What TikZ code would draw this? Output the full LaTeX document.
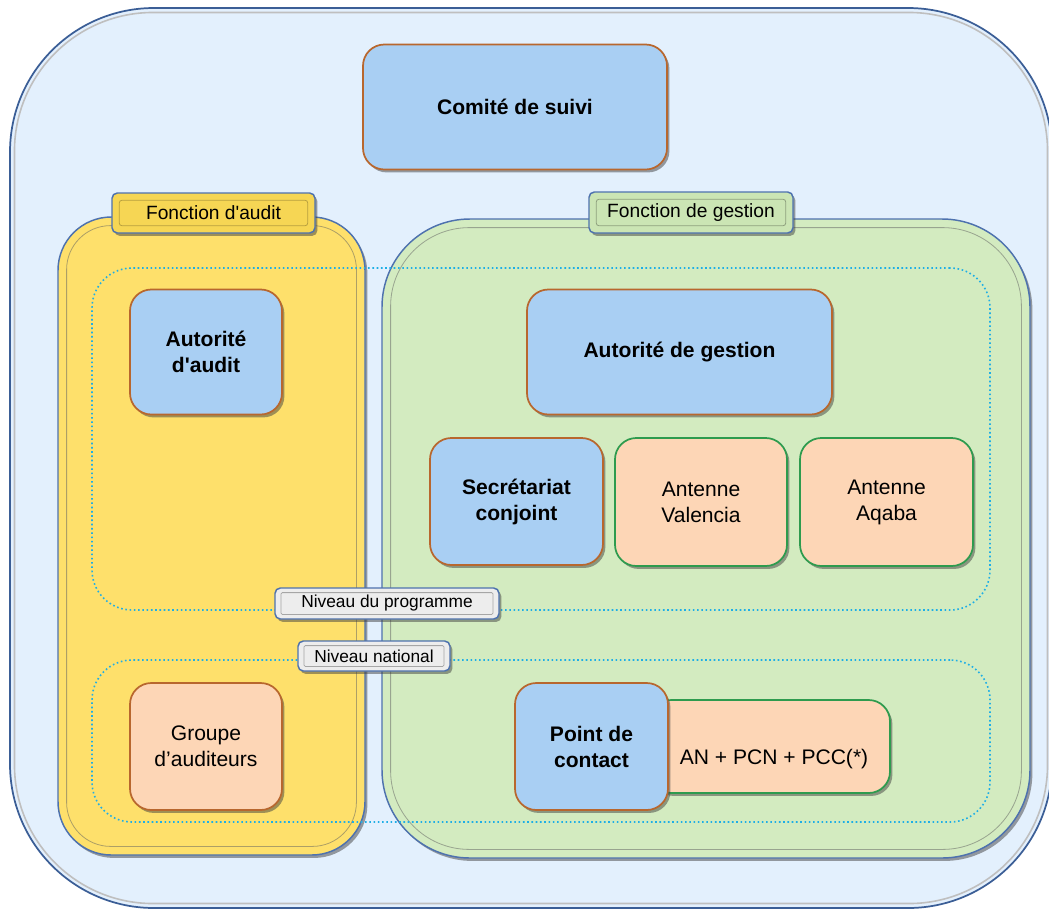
\documentclass[tikz,border=0pt]{standalone}
\usepackage{fontspec}
\setmainfont{Liberation Sans}
\usetikzlibrary{shadows,calc}
\definecolor{outerfill}{HTML}{E3F0FD}
\definecolor{outerline}{HTML}{3B5E96}
\definecolor{boxblue}{HTML}{A9CFF3}
\definecolor{boxbrown}{HTML}{B8672E}
\definecolor{salmon}{HTML}{FDD6B6}
\definecolor{boxgreen}{HTML}{2E9B4E}
\definecolor{audityellow}{HTML}{FEE06B}
\definecolor{gestgreen}{HTML}{D3EBC0}
\definecolor{tabyellow}{HTML}{F6D654}
\definecolor{tabgreen}{HTML}{CBE5B4}
\definecolor{dotblue}{HTML}{1EAEE6}
\definecolor{frameblue}{HTML}{4E72AE}
\definecolor{tabgrey}{HTML}{EDEDED}
\begin{document}
\begin{tikzpicture}[x=0.75pt,y=-0.75pt,
  every node/.style={inner sep=0pt},
  sh/.style={drop shadow={shadow xshift=1.8pt,shadow yshift=-2.2pt,opacity=0.5,fill=black!75}},
  bigfont/.style={font=\fontsize{15.8}{19.5}\selectfont},
  bluebox/.style={draw=boxbrown,line width=1.3pt,fill=boxblue,rounded corners=16pt,align=center,font=\bfseries\fontsize{15.8}{19.5}\selectfont,sh},
  salgreen/.style={draw=boxgreen,line width=1.3pt,fill=salmon,rounded corners=16pt,align=center,bigfont,sh},
  salbrown/.style={draw=boxbrown,line width=1.3pt,fill=salmon,rounded corners=16pt,align=center,bigfont,sh},
  container/.style={draw=frameblue,line width=1.1pt,sh},
  ftab/.style={draw=frameblue,line width=1.1pt,rounded corners=4pt,sh},
  ntab/.style={draw=frameblue,line width=1.1pt,rounded corners=4pt,fill=tabgrey,sh},
  levelbox/.style={draw=dotblue,dotted,line width=1.2pt,rounded corners=30pt},
  bevel/.style={line width=0.6pt}
]
\useasboundingbox (0,0) rectangle (1049,911);
\begin{scope}
\clip (0,0) rectangle (1049,911);
% outer frame
\node[draw=outerline,line width=1.3pt,fill=outerfill,rounded corners=108pt,
  minimum width=781.5pt,minimum height=675pt] (outer) at (531,458) {};
\draw[black!25,line width=1.2pt,rounded corners=104pt]
  ($(outer.north west)+(4pt,-4pt)$) rectangle ($(outer.south east)+(-4pt,4pt)$);
\end{scope}

% function containers
\node[container,fill=audityellow,rounded corners=40pt,
  minimum width=230.25pt,minimum height=478.5pt] (audit) at (211.5,536) {};
\draw[bevel,draw=audityellow!60!black!80,rounded corners=33pt]
  ($(audit.north west)+(7pt,-7pt)$) rectangle ($(audit.south east)+(-7pt,7pt)$);
\node[container,fill=gestgreen,rounded corners=66pt,
  minimum width=486pt,minimum height=479.25pt] (gestion) at (706,538.5) {};
\draw[bevel,draw=gestgreen!60!black!80,rounded corners=59pt]
  ($(gestion.north west)+(7pt,-7pt)$) rectangle ($(gestion.south east)+(-7pt,7pt)$);

% level frames
\node[levelbox,minimum width=673.5pt,minimum height=256.5pt] (prog) at (541,439) {};
\node[levelbox,minimum width=673.5pt,minimum height=121.5pt] (nat) at (541,741) {};

% function tabs
\node[ftab,fill=tabyellow,minimum width=152.25pt,minimum height=30pt] (tabaudit) at (213.5,213) {};
\draw[bevel,draw=tabyellow!75!black,rounded corners=2pt]
  ($(tabaudit.north west)+(6pt,-6pt)$) rectangle ($(tabaudit.south east)+(-6pt,6pt)$);
\node[font=\fontsize{14.4}{17}\selectfont] (tabaudittext) at (tabaudit) {Fonction d\textquotesingle audit};
\node[ftab,fill=tabgreen,minimum width=153pt,minimum height=30.75pt] (tabgest) at (691,212.5) {};
\draw[bevel,draw=tabgreen!70!black,rounded corners=2pt]
  ($(tabgest.north west)+(6pt,-6pt)$) rectangle ($(tabgest.south east)+(-6pt,6pt)$);
\node[font=\fontsize{14.4}{17}\selectfont] (tabgesttext) at (tabgest) {Fonction de gestion};

% boxes
\node[bluebox,minimum width=228pt,minimum height=93.75pt] (comite) at (515,107) {Comité de suivi};
\node[bluebox,minimum width=114pt,minimum height=93.75pt] (aa) at (206,352) {Autorité\\d\textquotesingle audit};
\node[bluebox,minimum width=228.75pt,minimum height=93.75pt] (ag) at (679.5,352) {Autorité de gestion};
\node[bluebox,minimum width=129.75pt,minimum height=95.25pt] (sc) at (516.5,501.5) {Secrétariat\\conjoint};
\node[salgreen,minimum width=129pt,minimum height=96pt] (val) at (701,502) {Antenne\\Valencia};
\node[salgreen,minimum width=129.75pt,minimum height=96pt] (aqa) at (886.5,502) {Antenne\\Aqaba};
\node[salbrown,minimum width=114pt,minimum height=95.25pt] (grp) at (206,746.5) {Groupe\\d’auditeurs};
\node[salgreen,minimum width=180pt,minimum height=69.75pt,
  label={[bigfont,xshift=3pt,yshift=-9.4pt]center:AN + PCN + PCC(*)}] (an) at (770,746.5) {};
\node[bluebox,minimum width=114.75pt,minimum height=95.25pt] (pc) at (591.5,746.5) {Point de\\contact};

% level tabs
\node[ntab,minimum width=168pt,minimum height=23.25pt] (tprog) at (387,603.5) {};
\draw[bevel,draw=black!35,rounded corners=1pt]
  ($(tprog.north west)+(5pt,-4pt)$) rectangle ($(tprog.south east)+(-5pt,4pt)$);
\node[font=\fontsize{13}{15}\selectfont] (tprogtext) at (tprog) {Niveau du programme};
\node[ntab,minimum width=114pt,minimum height=22.5pt] (tnat) at (374,656) {};
\draw[bevel,draw=black!35,rounded corners=1pt]
  ($(tnat.north west)+(5pt,-4pt)$) rectangle ($(tnat.south east)+(-5pt,4pt)$);
\node[font=\fontsize{13}{15}\selectfont] (tnattext) at (tnat) {Niveau national};
\end{tikzpicture}
\end{document}
